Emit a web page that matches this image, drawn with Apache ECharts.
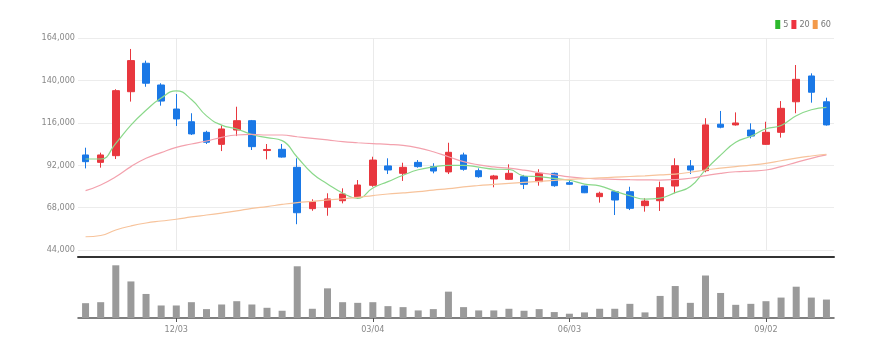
<!DOCTYPE html>
<html>
<head>
<meta charset="utf-8">
<script src="https://cdn.jsdelivr.net/npm/echarts@6/dist/echarts.min.js"></script>
<style>
html,body{margin:0;padding:0;background:#fff;}
#chart{width:887px;height:357px;}
</style>
</head>
<body>
<div id="chart"></div>
<script>
var categories = ['10/22','10/29','11/05','11/12','11/19','11/26','12/03','12/10','12/17','12/24',
  '12/31','01/07','01/14','01/21','01/28','02/04','02/11','02/18','02/25','03/04',
  '03/11','03/18','03/25','04/01','04/08','04/15','04/22','04/29','05/06','05/13',
  '05/20','05/27','06/03','06/10','06/17','06/24','07/01','07/08','07/15','07/22',
  '07/29','08/05','08/12','08/19','08/26','09/02','09/09','09/16','09/23','09/30'];
var labelDates = ['12/03','03/04','06/03','09/02'];

var opens  = [97800,93600,97400,133600,149700,137400,123800,116600,110600,103800,
  111900,117200,100300,101000,90800,67400,68200,71900,74200,80600,
  91600,87400,93600,91200,88200,97800,88900,84200,84000,85500,
  82700,87400,82100,80200,74200,77000,77000,69100,71900,80200,
  91600,88900,115200,114800,111900,103800,110600,127900,142500,127900];
var closes = [94000,97800,134200,151200,138400,128300,118200,109700,105000,112500,
  117200,102500,100900,96600,65100,71300,72900,75700,80800,94900,
  89300,90800,91200,88700,99300,89700,85500,85900,87400,81200,
  87400,80400,81200,76400,76100,72300,67600,71700,79300,91700,
  89300,114800,113500,115900,108500,110600,124200,140600,133300,114800];
var lows   = [90200,90600,95500,128000,136400,125700,114200,109100,104000,100000,
  108500,100600,95300,96300,58600,66200,63400,70400,72900,79800,
  87000,83100,90600,87400,87000,88900,84900,79500,83600,78500,
  80400,79800,80800,76200,70800,63800,66600,65700,66100,76100,
  87000,88000,112900,114400,107200,103500,107600,121400,127400,114400];
var highs  = [101900,99100,135000,157800,151200,138400,132300,121400,111500,114600,
  125100,117600,104000,104000,95900,72700,76100,78900,83600,96800,
  95900,93400,94900,93100,104700,99100,90200,86500,92500,86500,
  89700,87800,83600,80400,77000,77600,79800,73300,82700,95900,
  94900,118600,122700,121900,115700,116600,128300,148700,144000,130200];

var ma5  = [95500,95500,104400,114700,123100,130000,134100,129200,119900,114700,
  112500,109400,107600,105900,96500,87300,81400,76300,73200,79100,
  82700,86300,89400,91000,91900,91900,90900,89800,89600,85900,
  85500,84500,83500,81300,80300,77300,74700,72800,73400,76500,
  79900,89400,97700,105000,108400,112600,114500,120000,123400,124700];
var ma20 = [77600,80800,85500,91200,95900,99100,102100,104000,105700,107800,
  109100,109400,109100,109100,108100,107200,106300,105300,104700,104200,
  103800,103200,101800,99600,96800,94000,92200,91000,90300,89200,
  87800,86600,85400,84600,84200,84000,83800,83700,83600,83900,
  84600,86100,87400,88300,88700,89300,91200,93600,95900,97800];
var ma60 = [51500,52200,55300,57600,59300,60400,61400,62700,63800,64900,
  66100,67600,68600,69800,70800,71500,72300,73000,73800,74800,
  75700,76300,77000,77900,78700,79700,80500,81200,81700,82300,
  82900,83400,84000,84400,84800,85200,85600,86000,86500,87000,
  88000,89300,90300,91200,92000,93000,94500,96000,97200,98200];

var volumes = [45000,48000,160000,111000,73000,38000,38000,48000,27000,41000,
  51000,41000,31000,22000,157000,28000,90000,48000,46000,48000,
  36000,33000,23000,27000,80000,33000,23000,23000,28000,22000,
  27000,18000,13000,17000,28000,28000,43000,17000,67000,97000,
  46000,129000,76000,40000,43000,51000,62000,95000,62000,56000];

var yTicks = [44000,68000,92000,116000,140000,164000];
var legendNames = ['5','20','60'];

var FONT = "'DejaVu Sans Condensed','Liberation Sans',sans-serif";
var UP = '#e8373e', DOWN = '#1a78e6';

var labelIdx = labelDates.map(function(d){ return categories.indexOf(d); });
function isLabelIdx(idx){ return labelIdx.indexOf(idx) >= 0; }

var kData = categories.map(function(c,i){ return [opens[i], closes[i], lows[i], highs[i]]; });

var chart = echarts.init(document.getElementById('chart'), null, {renderer:'canvas'});
chart.setOption({
  animation:false,
  backgroundColor:'#fff',
  legend:{
    data:legendNames, right:56, top:20, icon:'rect', itemWidth:5, itemHeight:9, itemGap:3,
    padding:0, textStyle:{fontFamily:FONT, fontSize:9, color:'#777', padding:[0,0,0,-2]}
  },
  grid:[
    {left:78, right:53, top:38, bottom:107},
    {left:78, right:53, top:262, bottom:39}
  ],
  xAxis:[
    {type:'category', gridIndex:0, data:categories, boundaryGap:true, offset:7,
     axisLine:{show:true, lineStyle:{color:'#333', width:2}},
     axisTick:{show:false}, axisLabel:{show:false}, splitLine:{show:false}},
    {type:'category', gridIndex:1, data:categories, boundaryGap:true,
     axisLine:{show:true, lineStyle:{color:'#555', width:1.5}},
     axisTick:{show:true, alignWithLabel:true, interval:function(i){return isLabelIdx(i);}, length:4, lineStyle:{color:'#555'}},
     axisLabel:{show:true, interval:function(i){return isLabelIdx(i);}, fontFamily:FONT, fontSize:9, color:'#888', margin:7},
     splitLine:{show:false}},
    {type:'value', gridIndex:0, min:-0.5, max:categories.length-0.5, position:'top',
     axisLine:{show:false}, axisTick:{show:false, customValues:labelIdx},
     axisLabel:{show:false, customValues:labelIdx},
     splitLine:{show:true, lineStyle:{color:'#eaeaea', width:1}}}
  ],
  yAxis:[
    {type:'value', gridIndex:0, min:44000, max:164000, scale:true,
     axisLine:{show:false}, axisTick:{show:false, customValues:yTicks},
     axisLabel:{customValues:yTicks, fontFamily:FONT, fontSize:9, color:'#888', margin:3,
       formatter:function(v){return v.toLocaleString('en-US');}},
     splitLine:{show:true, lineStyle:{color:'#ececec', width:1}}},
    {type:'value', gridIndex:1, min:0, max:170000,
     axisLine:{show:false}, axisTick:{show:false}, axisLabel:{show:false}, splitLine:{show:false}}
  ],
  series:[
    {name:'candle', type:'candlestick', xAxisIndex:0, yAxisIndex:0, data:kData, barWidth:7,
     itemStyle:{color:UP, color0:DOWN, borderColor:UP, borderColor0:DOWN, borderWidth:1}},
    {name:'5', type:'line', xAxisIndex:0, yAxisIndex:0, data:ma5, smooth:true, showSymbol:false, symbol:'none',
     color:'#2db82d', lineStyle:{color:'#8ad88a', width:1.2}},
    {name:'20', type:'line', xAxisIndex:0, yAxisIndex:0, data:ma20, smooth:true, showSymbol:false, symbol:'none',
     color:'#ee3340', lineStyle:{color:'#f3a1ad', width:1.2}},
    {name:'60', type:'line', xAxisIndex:0, yAxisIndex:0, data:ma60, smooth:true, showSymbol:false, symbol:'none',
     color:'#f39a4a', lineStyle:{color:'#f7c39b', width:1.2}},
    {name:'volume', type:'bar', xAxisIndex:1, yAxisIndex:1, data:volumes, barWidth:7,
     itemStyle:{color:'#9a9a9a'}}
  ]
});
</script>
</body>
</html>
